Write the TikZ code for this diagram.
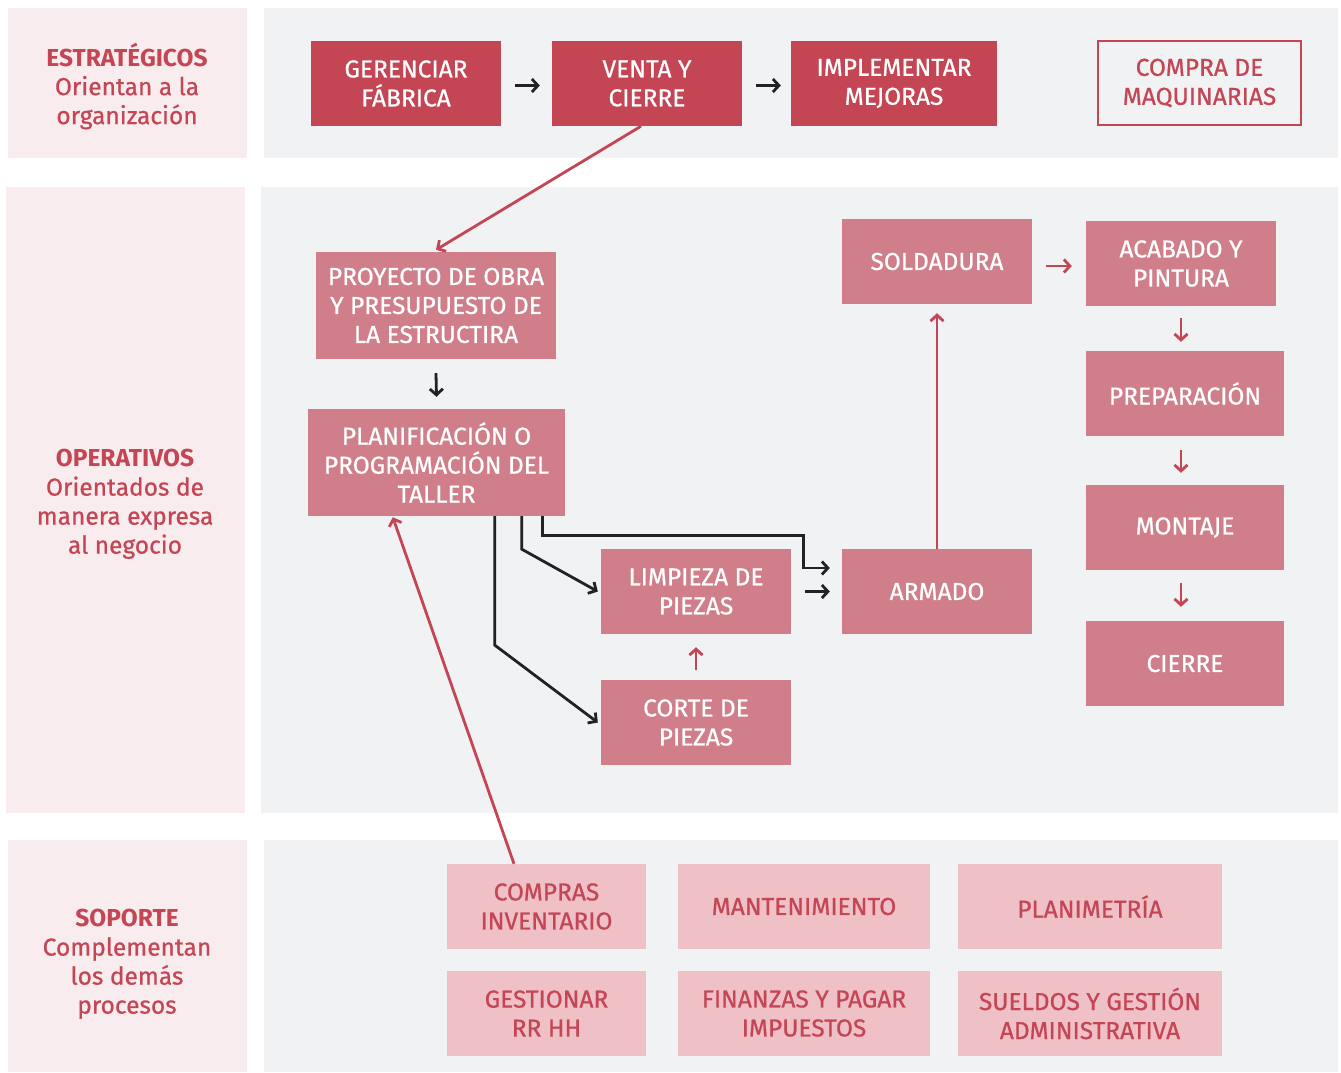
\documentclass[tikz,border=0pt]{standalone}
\usepackage{fontspec}
\setmainfont{Fira Sans}[UprightFeatures={FakeBold=0.7}]
\usetikzlibrary{arrows.meta,calc}
\definecolor{darkred}{HTML}{C44554}
\definecolor{midpink}{HTML}{D07F8A}
\definecolor{lightpink}{HTML}{EFC0C6}
\definecolor{panelpink}{HTML}{F9ECEF}
\definecolor{panelgray}{HTML}{F1F2F4}
\definecolor{inkred}{HTML}{C44554}
\definecolor{ink}{HTML}{222222}
\tikzset{
  x=1pt, y=-1pt,
  box/.style={rectangle, inner sep=0pt, align=center,
    font=\fontsize{24.5}{29}\selectfont},
  darkbox/.style={box, fill=darkred, text=white},
  outbox/.style={box, fill=panelgray, draw=darkred, line width=2.5pt, text=inkred},
  midbox/.style={box, fill=midpink, text=white},
  softbox/.style={box, fill=lightpink, text=inkred},
  label/.style={align=center, text=inkred, inner sep=0pt,
    font=\fontsize{24.5}{29}\selectfont},
  blk/.style={draw=ink, line width=2.8pt, -{Straight Barb[length=6pt,width=13pt,line width=2.8pt]}},
  rd/.style={draw=darkred, line width=2.8pt, -{Straight Barb[length=6pt,width=13pt,line width=2.8pt]}},
}
\begin{document}
\begin{tikzpicture}
\useasboundingbox (0,0) rectangle (1341,1072);
\fill[white] (0,0) rectangle (1341,1072);

% band backgrounds
\fill[panelpink] (8,8) rectangle (247,158);
\fill[panelgray] (264,8) rectangle (1338,158);
\fill[panelpink] (6,187) rectangle (245,813);
\fill[panelgray] (261,187) rectangle (1338,813);
\fill[panelpink] (8,840) rectangle (247,1072);
\fill[panelgray] (264,840) rectangle (1338,1072);

% band labels
\node[label] (lstr) at (127,86) {\textbf{ESTRATÉGICOS}\\Orientan a la\\organización};
\node[label] (lope) at (125,504) {\textbf{OPERATIVOS}\\Orientados de\\manera expresa\\al negocio};
\node[label] (lsop) at (127,964) {\textbf{SOPORTE}\\Complementan\\los demás\\procesos};

% strategic processes
\node[darkbox, minimum width=190pt, minimum height=85pt] (ger) at (406,83.5) {GERENCIAR\\FÁBRICA};
\node[darkbox, minimum width=190pt, minimum height=85pt] (venta) at (647,83.5) {VENTA Y\\CIERRE};
\node[darkbox, minimum width=206pt, minimum height=85pt] (impl) at (894,83.5) {IMPLEMENTAR\\MEJORAS};
\node[outbox, minimum width=203pt, minimum height=84pt] (maq) at (1199.5,83) {COMPRA DE\\MAQUINARIAS};

% operative processes
\node[midbox, minimum width=240pt, minimum height=107pt] (proy) at (436,305.5) {PROYECTO DE OBRA\\Y PRESUPUESTO DE\\LA ESTRUCTIRA};
\node[midbox, minimum width=257pt, minimum height=107pt] (plan) at (436.5,462.5) {PLANIFICACIÓN O\\PROGRAMACIÓN DEL\\TALLER};
\node[midbox, minimum width=190pt, minimum height=85pt] (sold) at (937,261.5) {SOLDADURA};
\node[midbox, minimum width=190pt, minimum height=85pt] (acab) at (1181,263.5) {ACABADO Y\\PINTURA};
\node[midbox, minimum width=198pt, minimum height=85pt] (prep) at (1185,393.5) {PREPARACIÓN};
\node[midbox, minimum width=198pt, minimum height=85pt] (mont) at (1185,527.5) {MONTAJE};
\node[midbox, minimum width=198pt, minimum height=85pt] (cierre) at (1185,663.5) {CIERRE};
\node[midbox, minimum width=190pt, minimum height=85pt] (arm) at (937,591.5) {ARMADO};
\node[midbox, minimum width=190pt, minimum height=85pt] (limp) at (696,591.5) {LIMPIEZA DE\\PIEZAS};
\node[midbox, minimum width=190pt, minimum height=85pt] (corte) at (696,722.5) {CORTE DE\\PIEZAS};

% support processes
\node[softbox, minimum width=199pt, minimum height=85pt] (comp) at (546.5,906.5) {COMPRAS\\INVENTARIO};
\node[softbox, minimum width=252pt, minimum height=85pt] (mant) at (804,906.5) {MANTENIMIENTO};
\node[softbox, minimum width=264pt, minimum height=85pt] (plani) at (1090,906.5) {PLANIMETRÍA};
\node[softbox, minimum width=199pt, minimum height=85pt] (rrhh) at (546.5,1013.5) {GESTIONAR\\RR HH};
\node[softbox, minimum width=252pt, minimum height=85pt] (fin) at (804,1013.5) {FINANZAS Y PAGAR\\IMPUESTOS};
\node[softbox, minimum width=264pt, minimum height=85pt] (sueldo) at (1090,1013.5) {SUELDOS Y GESTIÓN\\ADMINISTRATIVA};

% strategic flow
\draw[blk] ($(ger.east)+(14,2)$) -- ($(venta.west)+(-12,2)$);
\draw[blk] ($(venta.east)+(14,2)$) -- ($(impl.west)+(-10,2)$);
\draw[rd] ($(venta.south)+(-6,0)$) -- ($(proy.north)+(0,-2)$);

% operative flow
\draw[blk] ($(proy.south)+(0,14)$) -- ($(plan.north)+(0,-12)$);
\draw[blk] ($(plan.south west)+(187,0)$) -- ++(0,129) -- ($(corte.west)+(-3,0)$);
\draw[blk] ($(plan.south west)+(214,0)$) -- ++(0,33) -- ($(limp.west)+(-3,0)$);
\draw[blk] ($(plan.south west)+(235,0)$) -- ++(0,19) -| ($(arm.west)+(-38,-23.5)$) -- ($(arm.west)+(-12,-23.5)$);
\draw[blk] ($(limp.east)+(14,0)$) -- ($(arm.west)+(-12,0)$);
\draw[rd] ($(corte.north)+(0,-10)$) -- ($(limp.south)+(0,13)$);
\draw[rd] (arm.north) -- ($(sold.south)+(0,9)$);
\draw[rd] ($(sold.east)+(14,4.5)$) -- ($(acab.west)+(-14,2.5)$);
\draw[rd] ($(acab.south)+(0,12)$) -- ($(prep.north)+(-4,-9)$);
\draw[rd] ($(prep.south)+(-4,14)$) -- ($(mont.north)+(-4,-12)$);
\draw[rd] ($(mont.south)+(-4,13)$) -- ($(cierre.north)+(-4,-14)$);

% support feeds planning
\draw[rd] ($(comp.north)+(-32.5,0)$) -- ($(plan.south west)+(85,1)$);
\end{tikzpicture}
\end{document}
